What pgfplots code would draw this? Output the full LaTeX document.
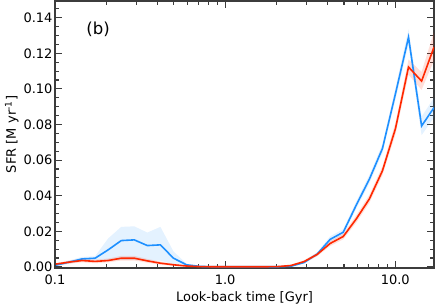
\documentclass[border=0pt]{standalone}
\usepackage{fontspec}
\setmainfont{DejaVu Sans}
\usepackage{pgfplots}
\usepackage{pgfplotstable}
\pgfplotsset{compat=1.18}
\usepgfplotslibrary{fillbetween}
\definecolor{cblue}{RGB}{30,144,255}
\definecolor{cred}{RGB}{255,40,0}
\definecolor{axgray}{RGB}{60,60,60}
\pgfplotstableread{
x      b       blo     bhi     r       rlo     rhi
0.1013 0.0010 0.0005 0.0015 0.0016 0.0008 0.0022
0.1209 0.0027 0.0018 0.0036 0.0027 0.0018 0.0035
0.1442 0.0045 0.0033 0.0056 0.0036 0.0026 0.0046
0.1721 0.0049 0.0030 0.0060 0.0031 0.0021 0.0041
0.2054 0.0096 0.0035 0.0160 0.0036 0.0026 0.0047
0.2451 0.0148 0.0040 0.0225 0.0049 0.0036 0.0062
0.2925 0.0152 0.0040 0.0228 0.0049 0.0036 0.0062
0.3490 0.0120 0.0035 0.0193 0.0034 0.0024 0.0045
0.4165 0.0124 0.0035 0.0225 0.0021 0.0013 0.0030
0.4971 0.0049 0.0015 0.0087 0.0012 0.0006 0.0018
0.5932 0.0012 0.0004 0.0018 0.0005 0.0002 0.0008
0.7079 0.0003 0.0001 0.0006 0.0002 0.0001 0.0003
0.8448 0.0001 0.0000 0.0002 0.0001 0.0000 0.0002
1.008  0.0001 0.0000 0.0002 0.0001 0.0000 0.0002
1.203  0.0001 0.0000 0.0002 0.0001 0.0000 0.0002
1.436  0.0001 0.0000 0.0002 0.0001 0.0000 0.0002
1.713  0.0001 0.0000 0.0002 0.0001 0.0000 0.0002
2.045  0.0001 0.0000 0.0002 0.0002 0.0001 0.0003
2.440  0.0004 0.0002 0.0006 0.0008 0.0004 0.0012
2.912  0.0025 0.0018 0.0032 0.0030 0.0022 0.0038
3.475  0.0072 0.0062 0.0082 0.0070 0.0060 0.0080
4.147  0.0155 0.0140 0.0172 0.0132 0.0118 0.0146
4.948  0.0195 0.0178 0.0212 0.0171 0.0155 0.0187
5.905  0.0348 0.0328 0.0368 0.0270 0.0250 0.0290
7.047  0.0493 0.0470 0.0516 0.0382 0.0360 0.0404
8.409  0.0665 0.0640 0.0690 0.0540 0.0515 0.0565
10.03  0.0973 0.0940 0.1005 0.0777 0.0745 0.0810
11.97  0.1290 0.1250 0.1335 0.1123 0.1080 0.1165
14.29  0.0792 0.0740 0.0845 0.1044 0.0995 0.1095
16.9   0.0895 0.0840 0.0950 0.1235 0.1160 0.1320
}\sfr
\begin{document}
\begin{tikzpicture}[font=\fontsize{13}{16}\selectfont]
\begin{axis}[
  scale only axis,
  width=379pt, height=267pt,
  xmode=log,
  xmin=0.1, xmax=16.9,
  ymin=-0.0006, ymax=0.1494,
  xtick={0.1,1,10},
  xticklabels={0.1,1.0,10.0},
  minor xtick={0.2,0.3,0.4,0.5,0.6,0.7,0.8,0.9,2,3,4,5,6,7,8,9},
  ytick={0,0.02,0.04,0.06,0.08,0.10,0.12,0.14},
  minor ytick={0.005,0.01,0.015,0.025,0.03,0.035,0.045,0.05,0.055,0.065,0.07,0.075,0.085,0.09,0.095,0.105,0.11,0.115,0.125,0.13,0.135,0.145},
  yticklabel={\pgfmathprintnumber[fixed,fixed zerofill,precision=2]{\tick}},
  scaled y ticks=false,
  /pgf/number format/assume math mode=true,
  tick align=inside,
  major tick length=7pt,
  minor tick length=4pt,
  every tick/.style={axgray, line width=1.1pt},
  axis line style={axgray, line width=1.6pt},
  xlabel={Look-back time [Gyr]},
  ylabel={SFR [M\,\,yr\textsuperscript{-1}]},
  xlabel style={yshift=0pt},
  ylabel style={yshift=-2pt},
  xticklabel style={yshift=-3pt},
  yticklabel style={xshift=1pt},
  clip=true,
]
\addplot[name path=bhi, draw=none, forget plot] table[x=x,y=bhi]{\sfr};
\addplot[name path=blo, draw=none, forget plot] table[x=x,y=blo]{\sfr};
\addplot[cblue, fill opacity=0.12, draw=none] fill between[of=bhi and blo];
\addplot[name path=rhi, draw=none, forget plot] table[x=x,y=rhi]{\sfr};
\addplot[name path=rlo, draw=none, forget plot] table[x=x,y=rlo]{\sfr};
\addplot[cred, fill opacity=0.15, draw=none] fill between[of=rhi and rlo];
\addplot[cblue, line width=1.6pt, no markers] table[x=x,y=b]{\sfr};
\addplot[cred, line width=1.6pt, no markers] table[x=x,y=r]{\sfr};
\node[font=\fontsize{16.5}{19}\selectfont] at (axis description cs:0.1135,0.895) {(b)};
\end{axis}
\pgfresetboundingbox
\path ([shift={(-55pt,-40pt)}]current axis.south west) rectangle ([shift={(2pt,1pt)}]current axis.north east);
\end{tikzpicture}
\end{document}
